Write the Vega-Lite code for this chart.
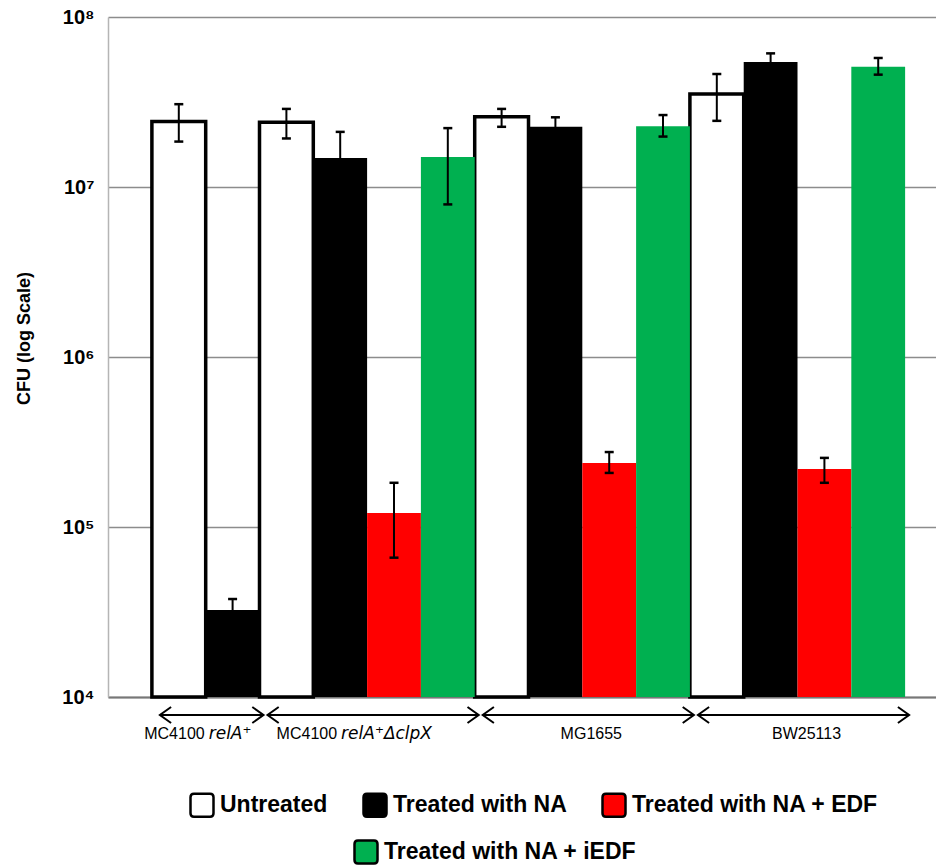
{
  "$schema": "https://vega.github.io/schema/vega-lite/v6.json",
  "width": 828,
  "height": 680,
  "autosize": {"type": "none"},
  "padding": {"left": 108, "top": 17, "right": 0, "bottom": 168},
  "config": {
    "view": {"stroke": null},
    "font": "Liberation Sans",
    "text": {"font": "Liberation Sans"}
  },
  "datasets": {
    "bars": [
      {"strain": "MC4100 relA+", "treatment": "Untreated", "bar": "MC4100 relA+ / Untreated", "cfu": 24300000, "lo": 18500000, "hi": 30700000},
      {"strain": "MC4100 relA+", "treatment": "Treated with NA", "bar": "MC4100 relA+ / Treated with NA", "cfu": 32500, "lo": 27500, "hi": 37700},
      {"strain": "MC4100 relA+ΔclpX", "treatment": "Untreated", "bar": "MC4100 relA+ΔclpX / Untreated", "cfu": 24000000, "lo": 19300000, "hi": 28800000},
      {"strain": "MC4100 relA+ΔclpX", "treatment": "Treated with NA", "bar": "MC4100 relA+ΔclpX / Treated with NA", "cfu": 14800000, "lo": 8500000, "hi": 21100000},
      {"strain": "MC4100 relA+ΔclpX", "treatment": "Treated with NA + EDF", "bar": "MC4100 relA+ΔclpX / Treated with NA + EDF", "cfu": 121000, "lo": 66000, "hi": 182000},
      {"strain": "MC4100 relA+ΔclpX", "treatment": "Treated with NA + iEDF", "bar": "MC4100 relA+ΔclpX / Treated with NA + iEDF", "cfu": 15000000, "lo": 7900000, "hi": 22200000},
      {"strain": "MG1655", "treatment": "Untreated", "bar": "MG1655 / Untreated", "cfu": 25900000, "lo": 22600000, "hi": 28800000},
      {"strain": "MG1655", "treatment": "Treated with NA", "bar": "MG1655 / Treated with NA", "cfu": 22600000, "lo": 19500000, "hi": 25700000},
      {"strain": "MG1655", "treatment": "Treated with NA + EDF", "bar": "MG1655 / Treated with NA + EDF", "cfu": 238000, "lo": 208000, "hi": 276000},
      {"strain": "MG1655", "treatment": "Treated with NA + iEDF", "bar": "MG1655 / Treated with NA + iEDF", "cfu": 22800000, "lo": 19800000, "hi": 26500000},
      {"strain": "BW25113", "treatment": "Untreated", "bar": "BW25113 / Untreated", "cfu": 35200000, "lo": 24500000, "hi": 46200000},
      {"strain": "BW25113", "treatment": "Treated with NA", "bar": "BW25113 / Treated with NA", "cfu": 54400000, "lo": 48000000, "hi": 61100000},
      {"strain": "BW25113", "treatment": "Treated with NA + EDF", "bar": "BW25113 / Treated with NA + EDF", "cfu": 219000, "lo": 182000, "hi": 255000},
      {"strain": "BW25113", "treatment": "Treated with NA + iEDF", "bar": "BW25113 / Treated with NA + iEDF", "cfu": 51000000, "lo": 45800000, "hi": 57400000}
    ],
    "groups": [
      {"strain": "MC4100 relA+", "first": "MC4100 relA+ / Untreated", "last": "MC4100 relA+ / Treated with NA", "mid": "MC4100 relA+ / Treated with NA", "prefix": "MC4100", "gene": "relA⁺"},
      {"strain": "MC4100 relA+ΔclpX", "first": "MC4100 relA+ΔclpX / Untreated", "last": "MC4100 relA+ΔclpX / Treated with NA + iEDF", "mid": "MC4100 relA+ΔclpX / Treated with NA + EDF", "prefix": "MC4100", "gene": "relA⁺ΔclpX"},
      {"strain": "MG1655", "first": "MG1655 / Untreated", "last": "MG1655 / Treated with NA + iEDF", "mid": "MG1655 / Treated with NA + EDF", "prefix": "MG1655", "gene": ""},
      {"strain": "BW25113", "first": "BW25113 / Untreated", "last": "BW25113 / Treated with NA + iEDF", "mid": "BW25113 / Treated with NA + EDF", "prefix": "BW25113", "gene": ""}
    ]
  },
  "layer": [
    {
      "data": {"name": "bars"},
      "transform": [{"filter": "datum.treatment !== 'Treated with NA + iEDF'"}],
      "mark": {"type": "bar", "stroke": "black"},
      "encoding": {
        "x": {
          "field": "bar", "type": "nominal", "title": null,
          "scale": {
            "domain": [
              "MC4100 relA+ / Untreated", "MC4100 relA+ / Treated with NA",
              "MC4100 relA+ΔclpX / Untreated", "MC4100 relA+ΔclpX / Treated with NA", "MC4100 relA+ΔclpX / Treated with NA + EDF", "MC4100 relA+ΔclpX / Treated with NA + iEDF",
              "MG1655 / Untreated", "MG1655 / Treated with NA", "MG1655 / Treated with NA + EDF", "MG1655 / Treated with NA + iEDF",
              "BW25113 / Untreated", "BW25113 / Treated with NA", "BW25113 / Treated with NA + EDF", "BW25113 / Treated with NA + iEDF"
            ],
            "paddingInner": 0, "paddingOuter": 0.695, "align": 0.587
          },
          "axis": {"labels": false, "ticks": false, "title": null, "grid": false, "domainColor": "#777777", "domainWidth": 2}
        },
        "y": {
          "field": "cfu", "type": "quantitative", "title": "CFU (log Scale)",
          "scale": {"type": "log", "domain": [10000, 100000000]},
          "axis": {
            "title": "CFU (log Scale)",
            "titleFontSize": 18, "titleFontWeight": "bold", "titleColor": "black",
            "titleX": -79, "titleY": 321, "titleBaseline": "alphabetic", "titleAlign": "center", "titleAngle": -90,
            "values": [10000, 100000, 1000000, 10000000, 100000000],
            "labelExpr": "'10' + ['⁰','¹','²','³','⁴','⁵','⁶','⁷','⁸','⁹'][round(log(datum.value)/LN10)]",
            "labelFontSize": 20, "labelFontWeight": "bold", "labelColor": "black", "labelPadding": 14,
            "ticks": false, "grid": true, "gridColor": "#8c8c8c", "gridWidth": 1.5,
            "domainColor": "#b5b5b5", "domainWidth": 1.5
          }
        },
        "y2": {"datum": 10000},
        "color": {
          "field": "treatment", "type": "nominal",
          "scale": {
            "domain": ["Untreated", "Treated with NA", "Treated with NA + EDF"],
            "range": ["#ffffff", "#000000", "#ff0000"]
          },
          "legend": {
            "title": null, "orient": "none", "legendX": 81, "legendY": 775,
            "direction": "horizontal",
            "symbolType": "M -1 -0.7 Q -1 -1 -0.7 -1 L 0.7 -1 Q 1 -1 1 -0.7 L 1 0.7 Q 1 1 0.7 1 L -0.7 1 Q -1 1 -1 0.7 Z",
            "symbolSize": 529, "symbolStrokeColor": "black", "symbolStrokeWidth": 2.5, "symbolOpacity": 1,
            "labelFontSize": 23, "labelFontWeight": "bold", "labelColor": "black", "labelOffset": 5, "labelLimit": 400,
            "columnPadding": 30, "padding": 0
          }
        },
        "strokeWidth": {"condition": {"test": "datum.treatment === 'Untreated'", "value": 3.5}, "value": 0}
      }
    },
    {
      "data": {"name": "bars"},
      "transform": [{"filter": "datum.treatment === 'Treated with NA + iEDF'"}],
      "mark": {"type": "bar", "stroke": "black", "strokeWidth": 0},
      "encoding": {
        "x": {"field": "bar", "type": "nominal", "title": null},
        "y": {"field": "cfu", "type": "quantitative", "title": "CFU (log Scale)"},
        "y2": {"datum": 10000},
        "fill": {
          "field": "treatment", "type": "nominal",
          "scale": {"domain": ["Treated with NA + iEDF"], "range": ["#00b050"]},
          "legend": {
            "title": null, "orient": "none", "legendX": 245, "legendY": 822,
            "direction": "horizontal",
            "symbolType": "M -1 -0.7 Q -1 -1 -0.7 -1 L 0.7 -1 Q 1 -1 1 -0.7 L 1 0.7 Q 1 1 0.7 1 L -0.7 1 Q -1 1 -1 0.7 Z",
            "symbolSize": 529, "symbolStrokeColor": "black", "symbolStrokeWidth": 2.5, "symbolOpacity": 1,
            "labelFontSize": 23, "labelFontWeight": "bold", "labelColor": "black", "labelOffset": 5, "labelLimit": 400,
            "padding": 0
          }
        }
      }
    },
    {
      "data": {"name": "bars"},
      "mark": {"type": "rule", "color": "black", "strokeWidth": 2},
      "encoding": {
        "x": {"field": "bar", "type": "nominal", "title": null},
        "y": {"field": "lo", "type": "quantitative", "title": "CFU (log Scale)"},
        "y2": {"field": "hi"}
      }
    },
    {
      "data": {"name": "bars"},
      "mark": {"type": "tick", "color": "black", "size": 9, "thickness": 2.5, "opacity": 1},
      "encoding": {
        "x": {"field": "bar", "type": "nominal", "title": null},
        "y": {"field": "hi", "type": "quantitative", "title": "CFU (log Scale)"}
      }
    },
    {
      "data": {"name": "bars"},
      "mark": {"type": "tick", "color": "black", "size": 9, "thickness": 2.5, "opacity": 1},
      "encoding": {
        "x": {"field": "bar", "type": "nominal", "title": null},
        "y": {"field": "lo", "type": "quantitative", "title": "CFU (log Scale)"}
      }
    },
    {
      "data": {"name": "groups"},
      "mark": {"type": "rule", "color": "black", "strokeWidth": 2, "xOffset": 8, "x2Offset": 4, "yOffset": 18},
      "encoding": {
        "x": {"field": "first", "type": "nominal", "bandPosition": 0, "title": null},
        "x2": {"field": "last", "bandPosition": 1},
        "y": {"datum": 10000}
      }
    },
    {
      "data": {"name": "groups"},
      "mark": {"type": "point", "shape": "M 1.4 -1 L 0 0 L 1.4 1", "size": 256, "filled": false, "stroke": "black", "strokeWidth": 2, "opacity": 1, "xOffset": 8, "yOffset": 18},
      "encoding": {
        "x": {"field": "first", "type": "nominal", "bandPosition": 0, "title": null},
        "y": {"datum": 10000}
      }
    },
    {
      "data": {"name": "groups"},
      "mark": {"type": "point", "shape": "M -1.4 -1 L 0 0 L -1.4 1", "size": 256, "filled": false, "stroke": "black", "strokeWidth": 2, "opacity": 1, "xOffset": 4, "yOffset": 18},
      "encoding": {
        "x": {"field": "last", "type": "nominal", "bandPosition": 1, "title": null},
        "y": {"datum": 10000}
      }
    },
    {
      "data": {"name": "groups"},
      "transform": [{"filter": "datum.strain === 'MC4100 relA+'"}],
      "mark": {"type": "text", "align": "right", "baseline": "alphabetic", "dx": -1, "dy": 42, "fontSize": 16, "color": "black"},
      "encoding": {
        "x": {"field": "mid", "type": "nominal", "bandPosition": 0, "title": null},
        "y": {"datum": 10000},
        "text": {"field": "prefix"}
      }
    },
    {
      "data": {"name": "groups"},
      "transform": [{"filter": "datum.strain === 'MC4100 relA+'"}],
      "mark": {"type": "text", "align": "left", "baseline": "alphabetic", "dx": 3, "dy": 42, "fontSize": 17, "font": "DejaVu Sans", "fontStyle": "italic", "color": "black"},
      "encoding": {
        "x": {"field": "mid", "type": "nominal", "bandPosition": 0, "title": null},
        "y": {"datum": 10000},
        "text": {"field": "gene"}
      }
    },
    {
      "data": {"name": "groups"},
      "transform": [{"filter": "datum.strain === 'MC4100 relA+ΔclpX'"}],
      "mark": {"type": "text", "align": "right", "baseline": "alphabetic", "dx": -30, "dy": 42, "fontSize": 16, "color": "black"},
      "encoding": {
        "x": {"field": "mid", "type": "nominal", "bandPosition": 0, "title": null},
        "y": {"datum": 10000},
        "text": {"field": "prefix"}
      }
    },
    {
      "data": {"name": "groups"},
      "transform": [{"filter": "datum.strain === 'MC4100 relA+ΔclpX'"}],
      "mark": {"type": "text", "align": "left", "baseline": "alphabetic", "dx": -26, "dy": 42, "fontSize": 17, "font": "DejaVu Sans", "fontStyle": "italic", "color": "black"},
      "encoding": {
        "x": {"field": "mid", "type": "nominal", "bandPosition": 0, "title": null},
        "y": {"datum": 10000},
        "text": {"field": "gene"}
      }
    },
    {
      "data": {"name": "groups"},
      "transform": [{"filter": "datum.gene === ''"}],
      "mark": {"type": "text", "align": "center", "baseline": "alphabetic", "dx": 9, "dy": 42, "fontSize": 16, "color": "black"},
      "encoding": {
        "x": {"field": "mid", "type": "nominal", "bandPosition": 0, "title": null},
        "y": {"datum": 10000},
        "text": {"field": "prefix"}
      }
    }
  ]
}
